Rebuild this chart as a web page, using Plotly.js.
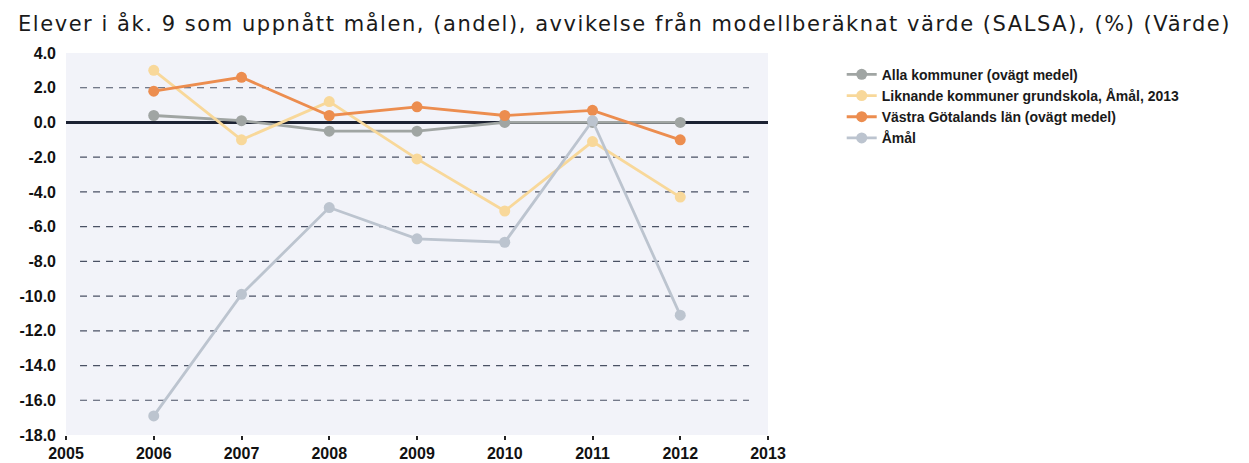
<!DOCTYPE html>
<html>
<head>
<meta charset="utf-8">
<script src="https://cdn.plot.ly/plotly-3.0.1.min.js"></script>
<style>
  html, body { margin: 0; padding: 0; background: #ffffff; }
  #chart { width: 1249px; height: 463px; }
  .gtitle { letter-spacing: 1.55px; }
</style>
</head>
<body>
<div id="chart"></div>
<script>
const years = [2006, 2007, 2008, 2009, 2010, 2011, 2012];
const seriesNames = [
  "Alla kommuner (ovägt medel)",
  "Liknande kommuner grundskola, Åmål, 2013",
  "Västra Götalands län (ovägt medel)",
  "Åmål"
];
const allaKommuner = [0.4, 0.1, -0.5, -0.5, 0.0, 0.0, 0.0];
const liknande = [3.0, -1.0, 1.2, -2.1, -5.1, -1.1, -4.3];
const vastraGotaland = [1.8, 2.6, 0.4, 0.9, 0.4, 0.7, -1.0];
const amal = [-16.9, -9.9, -4.9, -6.7, -6.9, 0.1, -11.1];
const seriesColors = ["#a0a5a3", "#f8d89a", "#ec8d4f", "#bcc4cf"];
const yTicks = [4, 2, 0, -2, -4, -6, -8, -10, -12, -14, -16, -18];
const yTickText = yTicks.map(v => v.toFixed(1));
const gridValues = [2, -2, -4, -6, -8, -10, -12, -14, -16];
const xTicks = [2005, 2006, 2007, 2008, 2009, 2010, 2011, 2012, 2013];

const seriesData = [allaKommuner, liknande, vastraGotaland, amal];
const traces = seriesData.map((vals, i) => ({
  type: 'scatter',
  mode: 'lines+markers',
  name: seriesNames[i],
  x: years,
  y: vals,
  line: { color: seriesColors[i], width: 2.8 },
  marker: { color: seriesColors[i], size: 11 }
}));

const shapes = gridValues.map(v => ({
  type: 'line', xref: 'paper', yref: 'y',
  x0: 0.02, x1: 0.973, y0: v, y1: v,
  line: { color: '#4a5164', width: 1.2, dash: '7px,6px' },
  layer: 'below'
}));

const tickFont = { size: 16, family: 'Liberation Sans, Arial, sans-serif', weight: 'bold', color: '#111111' };

const layout = {
  width: 1249, height: 463,
  margin: { l: 66, r: 481, t: 53, b: 28 },
  paper_bgcolor: '#ffffff',
  plot_bgcolor: '#f2f3f9',
  font: { family: 'DejaVu Sans, Verdana, sans-serif', color: '#111111' },
  title: {
    text: 'Elever i åk. 9 som uppnått målen, (andel), avvikelse från modellberäknat värde (SALSA), (%) (Värde)',
    font: { family: 'DejaVu Sans, Verdana, sans-serif', size: 21, color: '#1a1a1a' },
    xref: 'container', yref: 'container',
    x: 0.0144, xanchor: 'left', y: 0.949, yanchor: 'middle'
  },
  xaxis: {
    range: [2005, 2013],
    tickvals: xTicks,
    ticktext: xTicks.map(String),
    showgrid: false, zeroline: false, showline: false,
    ticks: 'outside', ticklen: 4, tickwidth: 2, tickcolor: '#222222',
    tickfont: tickFont
  },
  yaxis: {
    range: [-18, 4],
    tickvals: yTicks,
    ticktext: yTickText,
    showgrid: false,
    zeroline: true, zerolinecolor: '#1c2233', zerolinewidth: 2.5,
    showline: false, ticks: '',
    ticklabelstandoff: 9,
    tickfont: tickFont
  },
  shapes: shapes,
  showlegend: true,
  legend: {
    x: 1.105, xanchor: 'left', y: 0.985, yanchor: 'top',
    bgcolor: 'rgba(0,0,0,0)',
    font: { size: 14, family: 'Liberation Sans, Arial, sans-serif', weight: 'bold', color: '#1a1a1a' },
    tracegroupgap: 0, itemwidth: 30
  },
  hovermode: false
};

Plotly.newPlot('chart', traces, layout, { displayModeBar: false, staticPlot: true });
</script>
</body>
</html>
